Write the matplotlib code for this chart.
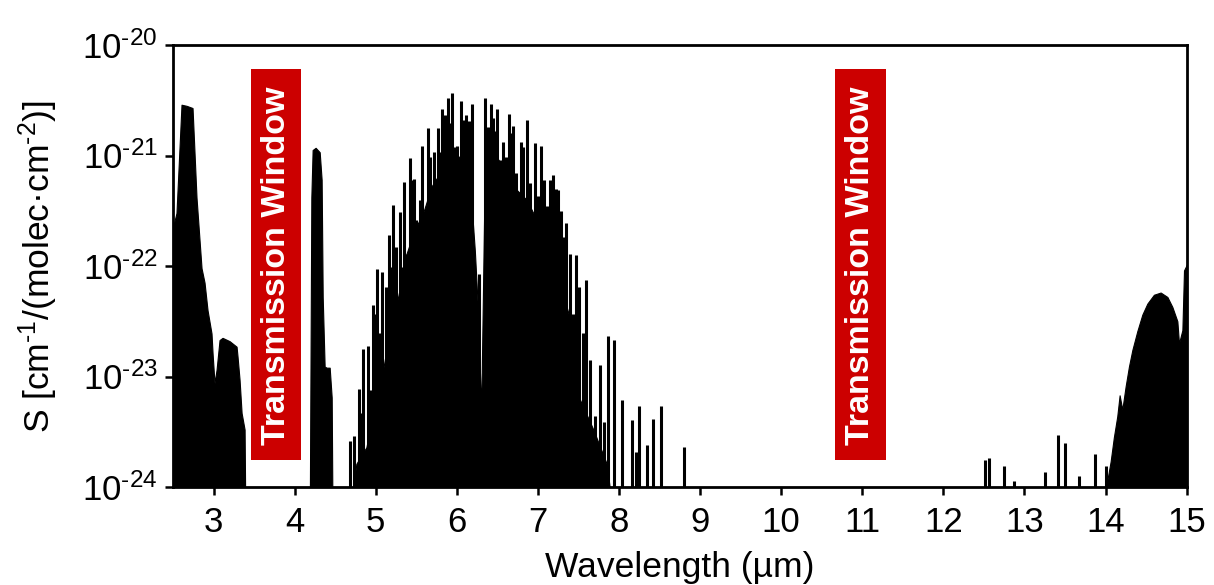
import numpy as np
import matplotlib
matplotlib.use('Agg')
import matplotlib.pyplot as plt
from matplotlib.patches import Rectangle
from matplotlib.ticker import NullLocator

plt.rcParams['font.family'] = ['Liberation Sans', 'DejaVu Sans']
plt.rcParams['mathtext.fontset'] = 'custom'
plt.rcParams['mathtext.rm'] = 'Liberation Sans'
plt.rcParams['mathtext.it'] = 'Liberation Sans:italic'

# dense bands, drawn as filled envelopes (wavelength in um, log10 of S)
band1_wl = [2.5, 2.5, 2.543, 2.605, 2.667, 2.741, 2.790, 2.852, 2.889, 2.926, 2.975,
            2.988, 3.012, 3.037, 3.074, 3.111, 3.198, 3.284, 3.296, 3.321, 3.346, 3.383, 3.395]
band1_logs = [-24.5, -21.65, -21.52, -20.54, -20.55, -20.57, -21.38, -22.02, -22.15, -22.40, -22.61,
              -22.79, -23.06, -22.94, -22.67, -22.65, -22.68, -22.73, -22.82, -23.03, -23.33, -23.48, -24.5]

band2_wl = [4.185, 4.206, 4.222, 4.259, 4.309, 4.333, 4.346, 4.370, 4.395, 4.432, 4.457, 4.469]
band2_logs = [-24.5, -21.38, -20.95, -20.93, -20.97, -21.22, -22.28, -22.91, -22.92, -22.92, -23.19, -24.5]

band3_floor_wl = [4.638, 4.761, 4.885, 4.967, 5.070, 5.173, 5.276, 5.379, 5.481, 5.584, 5.688,
                  5.790, 5.914, 6.037, 6.160, 6.222, 6.263, 6.300, 6.346, 6.490, 6.613, 6.737,
                  6.860, 6.984, 7.107, 7.230, 7.354, 7.436, 7.519, 7.683, 7.848, 7.971]
band3_floor_logs = [-24.5, -23.79, -23.64, -23.33, -23.03, -22.58, -22.28, -21.89, -21.67, -21.52, -21.28,
                    -21.16, -21.01, -21.01, -21.22, -21.86, -22.43, -23.33, -21.07, -21.01, -21.16, -21.31,
                    -21.40, -21.58, -21.83, -22.13, -22.37, -22.58, -23.21, -23.48, -23.79, -24.5]

band6_wl = [14.021, 14.021, 14.062, 14.102, 14.144, 14.173, 14.206, 14.247, 14.288, 14.330, 14.391,
            14.453, 14.515, 14.596, 14.679, 14.762, 14.823, 14.885, 14.905, 14.947, 14.967, 15.0]
band6_logs = [-24.5, -23.94, -23.77, -23.55, -23.36, -23.17, -23.30, -23.09, -22.91, -22.76, -22.59,
              -22.44, -22.34, -22.26, -22.24, -22.28, -22.37, -22.50, -22.70, -22.58, -22.04, -21.99]

# individual lines of the 4.7-8.8 um band
lines_wl = [4.679, 4.728, 4.790, 4.823, 4.844, 4.901, 4.926, 4.967, 5.000, 5.021, 5.049, 5.082,
            5.123, 5.160, 5.185, 5.214, 5.247, 5.296, 5.325, 5.350, 5.379, 5.420, 5.440, 5.469,
            5.502, 5.543, 5.576, 5.613, 5.646, 5.675, 5.716, 5.741, 5.770, 5.798, 5.823, 5.852,
            5.893, 5.914, 5.938, 5.975, 6.004, 6.049, 6.078, 6.091, 6.119, 6.152, 6.193, 6.272,
            6.346, 6.387, 6.416, 6.441, 6.457, 6.498, 6.531, 6.572, 6.601, 6.638, 6.663, 6.687,
            6.728, 6.786, 6.819, 6.860, 6.901, 6.963, 7.004, 7.041, 7.074, 7.107, 7.148, 7.181,
            7.222, 7.251, 7.280, 7.313, 7.346, 7.395, 7.436, 7.469, 7.510, 7.551, 7.589, 7.642,
            7.704, 7.765, 7.815, 7.868, 7.938, 8.041, 8.164, 8.206, 8.251, 8.349, 8.423, 8.519, 8.806]
lines_logs = [-23.58, -23.54, -23.11, -23.33, -22.75, -22.72, -23.12, -22.35, -22.43, -22.03, -22.61, -22.05,
              -22.19, -21.72, -22.01, -21.45, -21.83, -21.51, -22.01, -21.24, -21.89, -21.02, -21.22, -21.21,
              -21.58, -21.40, -20.91, -21.64, -20.75, -21.01, -20.97, -21.22, -20.75, -20.97, -20.58, -20.63,
              -20.48, -20.71, -20.43, -20.92, -20.91, -20.51, -20.92, -20.68, -20.63, -20.69, -20.53, -22.07,
              -20.48, -20.74, -20.53, -20.66, -20.78, -20.58, -21.04, -20.88, -21.01, -20.62, -20.80, -20.73,
              -21.16, -20.88, -20.92, -20.68, -21.25, -20.89, -21.37, -20.91, -21.22, -21.46, -21.22, -21.18,
              -21.30, -21.31, -21.50, -21.74, -21.61, -21.89, -22.43, -21.90, -22.19, -22.61, -22.13, -22.85,
              -23.36, -22.90, -23.41, -22.63, -22.67, -23.21, -23.39, -23.68, -23.27, -23.62, -23.38, -23.27, -23.64]

# weak lines between 12.5 and 14 um
weak_wl = [12.510, 12.568, 12.745, 12.868, 13.247, 13.416, 13.498, 13.675, 13.868, 14.009]
weak_logs = [-23.76, -23.74, -23.81, -23.95, -23.86, -23.53, -23.60, -23.90, -23.70, -23.81]

x_ticks = list(range(3, 16))
y_ticks = [1e-24, 1e-23, 1e-22, 1e-21, 1e-20]
y_ticklabels = [r'$\mathregular{10^{\text{-}24}}$', r'$\mathregular{10^{\text{-}23}}$',
                r'$\mathregular{10^{\text{-}22}}$', r'$\mathregular{10^{\text{-}21}}$',
                r'$\mathregular{10^{\text{-}20}}$']

fig = plt.figure(figsize=(12.14, 5.85), dpi=100)
ax = fig.add_axes([0.1425, 0.1675, 0.835, 0.7555])
ax.set_yscale('log')

for wl, logs in [(band1_wl, band1_logs), (band2_wl, band2_logs),
                 (band3_floor_wl, band3_floor_logs), (band6_wl, band6_logs)]:
    ax.fill_between(wl, 1e-25, 10.0 ** np.array(logs), color='black', lw=0.8, edgecolor='black')

ax.vlines(lines_wl, 1e-25, 10.0 ** np.array(lines_logs), color='black', lw=2.2)
ax.vlines(weak_wl, 1e-25, 10.0 ** np.array(weak_logs), color='black', lw=2.2)

ax.set_xlim(2.5, 15)
ax.set_ylim(1e-24, 1e-20)
ax.set_xticks(x_ticks)
ax.set_xticklabels([str(t) for t in x_ticks])
ax.set_yticks(y_ticks)
ax.set_yticklabels(y_ticklabels)
ax.yaxis.set_minor_locator(NullLocator())
ax.tick_params(direction='out', length=6, width=1.8, labelsize=25)
ax.tick_params(axis='x', pad=8)
ax.tick_params(axis='y', pad=5)
for sp in ax.spines.values():
    sp.set_linewidth(2.0)
    sp.set_zorder(5)

ax.set_xlabel('Wavelength (µm)', fontsize=25.5, labelpad=8)
ax.set_ylabel(r'S [cm$^{\mathregular{\text{-}1}}$/(molec·cm$^{\mathregular{\text{-}2}}$)]',
              fontsize=25.5, labelpad=16)

# transmission window labels
for x0 in [0.077, 0.6535]:
    ax.add_patch(Rectangle((x0, 0.061), 0.0495, 0.885, transform=ax.transAxes,
                           facecolor='#cc0000', edgecolor='none', zorder=4))
    ax.text(x0 + 0.0248, 0.50, 'Transmission Window', transform=ax.transAxes, rotation=90,
            ha='center', va='center', color='white', fontsize=24.5, fontweight='bold', zorder=6)

fig.savefig('out.png', dpi=100)
